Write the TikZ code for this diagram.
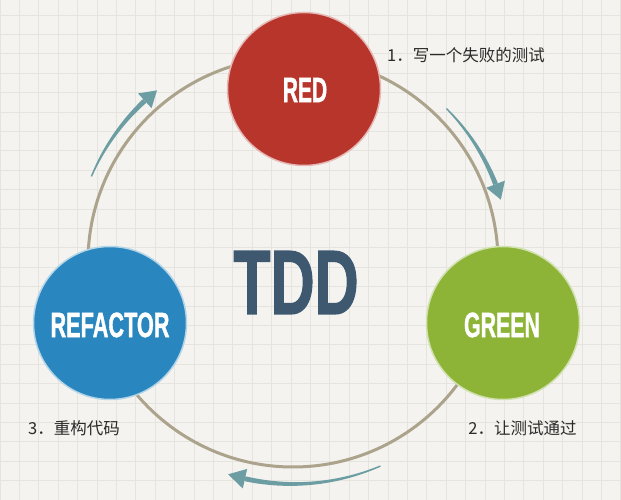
\documentclass[tikz,border=0pt]{standalone}
\usepackage{fontspec}
\setmainfont{Liberation Sans}
\newfontfamily\cjkfont{Noto Sans CJK SC}
\newfontfamily\heavyfont{Liberation Sans}[UprightFont=*-Bold, FakeBold=1.6]
\definecolor{bgc}{HTML}{F4F3EF}
\definecolor{gridc}{HTML}{E5E4DF}
\definecolor{ringcol}{HTML}{ACA38C}
\definecolor{arrowc}{HTML}{6B9DA3}
\definecolor{redc}{HTML}{B8352B}
\definecolor{greenc}{HTML}{8DB437}
\definecolor{bluec}{HTML}{2986BE}
\definecolor{tddc}{HTML}{3E5870}
\definecolor{labelc}{HTML}{2B2B2B}
\newcommand\tddarrow[4]{%
  \fill[arrowc, shift={(ctr)}]
    plot[domain=#2:#3, samples=30] ({(#1-0.7-1.8*(\x-#2)/(#3-#2))*cos(\x)}, {(#1-0.7-1.8*(\x-#2)/(#3-#2))*sin(\x)})
    -- plot[domain=#3:#2, samples=30] ({(#1+0.7+1.8*(\x-#2)/(#3-#2))*cos(\x)}, {(#1+0.7+1.8*(\x-#2)/(#3-#2))*sin(\x)})
    -- cycle;
  \fill[arrowc, shift={(ctr)}] ({#3}:{#1-10}) -- ({#4}:{#1}) -- ({#3}:{#1+10}) -- cycle;
}
\begin{document}
\begin{tikzpicture}[x=1pt,y=1pt,
  ball/.style={circle, inner sep=0pt, minimum size=153pt, line width=1.5pt},
  balltxt/.style={inner sep=0pt, text=white, font=\heavyfont\fontsize{35}{35}\selectfont},
  lbl/.style={inner sep=0pt, text=labelc, font=\cjkfont\fontsize{16.5}{16.5}\selectfont},
  ring/.style={draw=ringcol, line width=3pt}]
\useasboundingbox (0,0) rectangle (621,500);
\fill[bgc] (0,0) rectangle (621,500);
\draw[gridc, line width=0.7pt, step=19.4pt] (0,0) grid (621,500);
\coordinate (ctr) at (293,238);
\draw[ring] (ctr) circle[radius=205];
\tddarrow{219}{157}{132.6}{128.4}
\tddarrow{217}{45}{21}{16.7}
\tddarrow{222}{-66.8}{-102.5}{-107}
\node[ball, fill=redc, draw=redc!35!white] (red) at (304,411) {};
\node[ball, fill=greenc, draw=greenc!40!white] (green) at (503,177) {};
\node[ball, fill=bluec, draw=bluec!35!white] (refactor) at (110,177) {};
\node[balltxt] (redtxt) at (305,410) {\scalebox{0.6}[1]{RED}};
\node[balltxt] (greentxt) at (502,175) {\scalebox{0.61}[1]{GREEN}};
\node[balltxt] (reftxt) at (110,175) {\scalebox{0.62}[1]{REFACTOR}};
\node[inner sep=0pt, text=tddc, font=\heavyfont\fontsize{91}{91}\selectfont] (tdd) at (296,217.5) {\scalebox{0.67}[1]{TDD}};
\node[lbl] (l1) at (466,445) {1．写一个失败的测试};
\node[lbl] (l2) at (522.5,72) {2．让测试通过};
\node[lbl] (l3) at (74,72) {3．重构代码};
\end{tikzpicture}
\end{document}
